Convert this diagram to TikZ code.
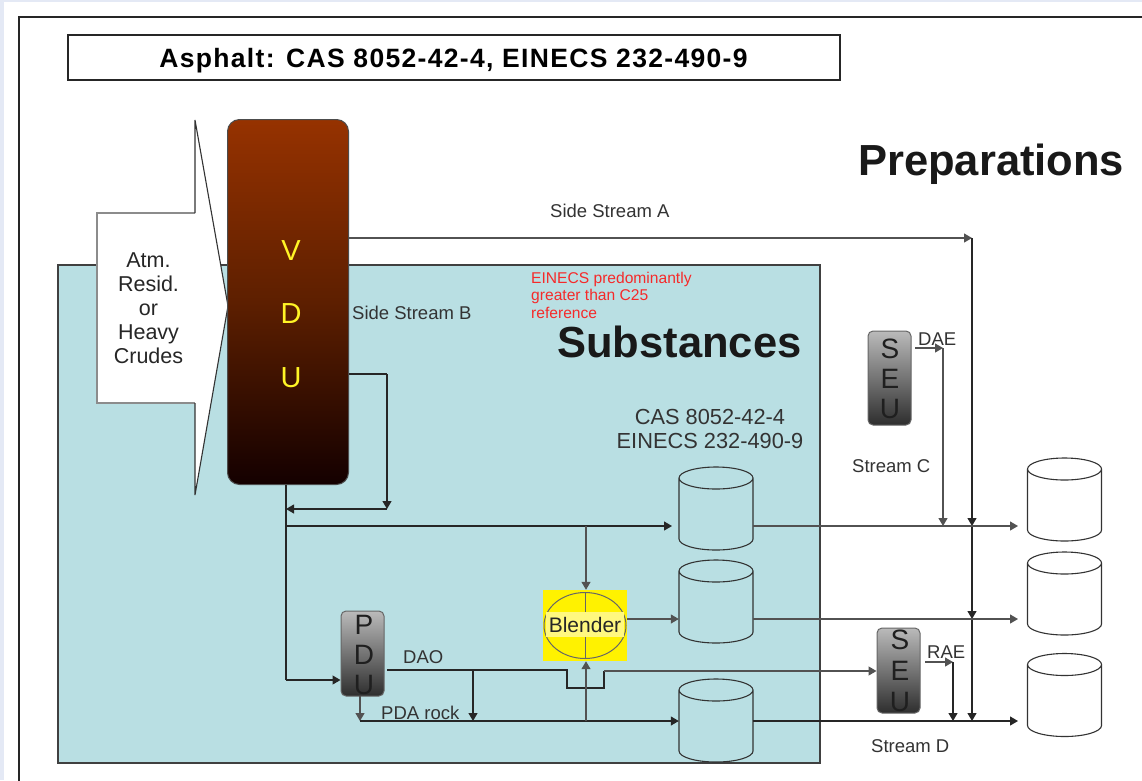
\documentclass[tikz,border=0pt]{standalone}
\usepackage{fontspec}
\setmainfont{Liberation Sans}
\usetikzlibrary{arrows.meta}
\tikzset{
  x=1pt,y=-1pt,
  wire/.style={draw=black!85,line width=1.2pt},
  flow/.style={wire,-{Triangle[length=8pt,width=9pt]}},
  flowthin/.style={draw=black!68,line width=1.2pt,-{Triangle[length=8pt,width=9pt]}},
  lab/.style={inner sep=0pt,text=black!80,font=\fontsize{18.5}{20}\selectfont},
  unitbox/.style={draw=black!60,line width=1pt,rounded corners=5pt,inner sep=0pt,minimum width=43pt,top color=black!27,bottom color=black!82},
  unittext/.style={inner sep=0pt,align=center,text=black!88},
  tankbox/.style={inner sep=0pt,minimum width=74pt,minimum height=83pt},
  tankline/.style={draw=black!80,line width=1.1pt},
}
\newcommand{\tankat}[3]{%
  \node[tankbox] (#1) at (#2,#3) {};
  \draw[tankline,shift={(#1.center)}] (-37,-30.5) -- (-37,30.5) arc[start angle=180,end angle=0,x radius=37,y radius=11] -- (37,-30.5)
    (0,-30.5) ellipse [x radius=37,y radius=11];
}
\definecolor{panel}{HTML}{B9DFE3}
\definecolor{edgeblue}{HTML}{E4E9F5}
\definecolor{notered}{HTML}{F52A2A}
\begin{document}
\begin{tikzpicture}
\useasboundingbox (0,0) rectangle (1142,780);
\fill[white] (0,0) rectangle (1142,780);
\fill[edgeblue] (0,0) rectangle (1142,2);
\fill[edgeblue] (0,0) rectangle (4,780);
\draw[black!85,line width=1.2pt] (1143,17) -- (19,17) -- (19,781);

% title
\node[draw=black!85,line width=1.2pt,minimum width=772pt,minimum height=45pt,inner sep=0pt] (title) at (454,57.5) {};
\node[inner sep=0pt,font=\fontsize{26.5}{28}\selectfont\bfseries\addfontfeature{LetterSpace=5}] (titlet) at (453.5,61) {Asphalt: CAS 8052-42-4, EINECS 232-490-9};

% panel
\node[draw=black!75,fill=panel,line width=1.2pt,minimum width=762pt,minimum height=498pt,inner sep=0pt] (panel) at (439,514) {};

% feed arrow
\fill[white] (97,213) -- (195,213) -- (195,120) -- (228,306) -- (195,495) -- (195,403) -- (97,403) -- cycle;
\draw[black!45,line width=1.3pt] (195,213) -- (97,213) -- (97,403) -- (195,403);
\draw[black!80,line width=1.1pt] (195,213) -- (195,120) -- (228,306) -- (195,495) -- (195,403);
\node[inner sep=0pt,align=center,text=black!85,font=\fontsize{21.5}{24}\selectfont] (feed) at (148.5,308) {Atm.\\Resid.\\or\\Heavy\\Crudes};

% VDU
\definecolor{vdutop}{HTML}{963200}
\definecolor{vdubot}{HTML}{140000}
\node[draw=black!70,line width=1pt,rounded corners=12pt,minimum width=121pt,minimum height=365pt,inner sep=0pt,top color=vdutop,bottom color=vdubot,middle color=vdutop!62!black] (vdu) at (288,302) {};
\node[inner sep=0pt,align=center,text=yellow!85!white,font=\fontsize{29}{63.5}\selectfont] (vdut) at (291,314) {V\\D\\U};

% tanks
\tankat{t1}{716}{508.5}
\tankat{t2}{716}{601.5}
\tankat{t3}{716}{720.5}
\tankat{t4}{1064.5}{499.5}
\tankat{t5}{1064.5}{593.5}
\tankat{t6}{1064.5}{695}

% units
\node[unitbox,minimum height=85pt] (pdu) at (362.5,653.5) {};
\node[unitbox,minimum height=94pt] (seua) at (889.5,378) {};
\node[unitbox,minimum height=85pt] (seub) at (898.5,670.5) {};
\node[unittext,font=\fontsize{28}{30}\selectfont] (pdut) at (364,655) {P\\D\\U};
\node[unittext,font=\fontsize{28}{30}\selectfont] (seuat) at (890,379) {S\\E\\U};
\node[unittext,font=\fontsize{28}{31}\selectfont] (seubt) at (900,671) {S\\E\\U};

% blender
\node[fill=yellow,minimum width=84pt,minimum height=71pt,inner sep=0pt] (blend) at (585,625.5) {};
\draw[black!60,line width=1pt] (blend.center) ellipse [x radius=41,y radius=33];
\draw[black!60,line width=1pt] (585.5,592) -- (585.5,658);
\node[fill=yellow!50!white,inner sep=0pt,minimum width=78pt,minimum height=25pt,text=black!85,font=\fontsize{21}{22}\selectfont] (blendt) at (585,624.5) {Blender};

% junction coordinates
\coordinate (jA) at (972,238);
\coordinate (jC) at (972,526);
\coordinate (jM) at (972,619);
\coordinate (jD) at (972,721);
\coordinate (uB) at (387,374);
\coordinate (uC) at (387,509);
\coordinate (bot) at (286,485);
\coordinate (bB) at (286,509);
\coordinate (bC) at (286,526);
\coordinate (bD) at (286,680);
\coordinate (t1in) at (672,526);
\coordinate (blTop) at (586,526);
\coordinate (daoS) at (387,670);
\coordinate (daoB) at (473,670);
\coordinate (daoJ1) at (567,670);
\coordinate (daoJ2) at (567,688);
\coordinate (daoJ3) at (604,688);
\coordinate (daoJ4) at (604,671);
\coordinate (pdaT) at (360,696);
\coordinate (pdaB) at (360,721);
\coordinate (rockB) at (473,721);
\coordinate (rockU) at (586,721);
\coordinate (daeS) at (915,348);
\coordinate (daeC) at (943,348);
\coordinate (daeE) at (943,526);
\coordinate (raeS) at (925,662);
\coordinate (raeC) at (953,662);
\coordinate (raeE) at (953,721);
\coordinate (e1) at (1018,526);
\coordinate (e2) at (1018,619);
\coordinate (e3) at (1018,721);

% connectors
\draw[flowthin] (vdu.east |- jA) -- (jA);
\draw[flow] (jA) -- (jC);
\draw[flow] (jC) -- (jM);
\draw[flow] (jM) -- (jD);
\draw[wire] (vdu.east |- uB) -- (uB);
\draw[flow] (uB) -- (uC);
\draw[flow] (uC) -- (bB);
\draw[wire] (bot) -- (bD);
\draw[flow] (bD) -- (pdu.west |- bD);
\draw[flow] (bC) -- (t1in);
\draw[flowthin] (blTop) -- (blTop |- blend.north);
\draw[flowthin] (blend.east |- jM) -- (t2.west |- jM);
\draw[flowthin] (t1.east |- bC) -- (e1);
\draw[flowthin] (t2.east |- jM) -- (e2);
\draw[flow] (t3.east |- jD) -- (e3);
\draw[wire] (daoS) -- (daoJ1) -- (daoJ2) -- (daoJ3) -- (daoJ4);
\draw[flowthin] (daoJ4) -- (seub.west |- daoJ4);
\draw[flow] (daoB) -- (rockB);
\draw[flowthin] (pdaT) -- (pdaB);
\draw[flow] (pdaB) -- (t3.west |- pdaB);
\draw[flowthin] (rockU) -- (rockU |- blend.south);
\draw[flowthin] (daeS) -- (daeC);
\draw[flowthin] (daeC) -- (daeE);
\draw[flowthin] (raeS) -- (raeC);
\draw[flow] (raeC) -- (raeE);

% labels
\node[lab,anchor=west] (ssa) at (550,211) {Side Stream A};
\node[lab,anchor=west] (ssb) at (352,313) {Side Stream B};
\node[lab,anchor=west] (sc) at (852,466) {Stream C};
\node[lab,anchor=west] (sd) at (871,746) {Stream D};
\node[lab,anchor=west] (dae) at (918,339) {DAE};
\node[lab,anchor=west] (rae) at (927,652) {RAE};
\node[lab,anchor=west] (dao) at (403,657) {DAO};
\node[lab,anchor=west] (rock) at (381,713) {PDA rock};
\node[inner sep=0pt,anchor=north west,align=left,text=notered,font=\fontsize{15.6}{17.5}\selectfont] (note) at (531,271.5) {EINECS predominantly\\greater than C25\\reference};
\node[inner sep=0pt,anchor=west,font=\fontsize{43.5}{46}\selectfont\bfseries,text=black!90] (sub) at (557,342) {Substances};
\node[inner sep=0pt,anchor=west,font=\fontsize{43.5}{46}\selectfont\bfseries,text=black!90] (prep) at (858,164) {Preparations};
\node[inner sep=0pt,align=center,text=black!80,font=\fontsize{21.8}{24}\selectfont] (cas) at (710,429) {CAS 8052-42-4\\EINECS 232-490-9};
\end{tikzpicture}
\end{document}
